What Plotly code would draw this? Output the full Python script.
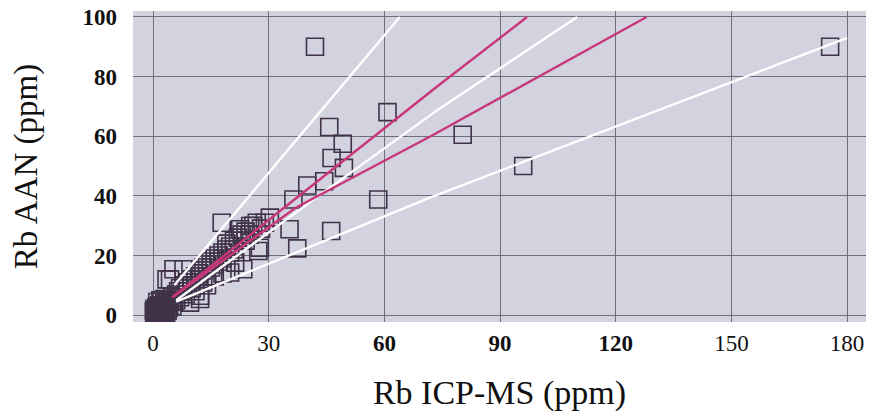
import plotly.graph_objects as go

# Scatter data: Rb by ICP-MS (x) vs Rb by AAN (y), ppm
icp_ms = [175.6, 96, 80.3, 42, 60.8, 58.4, 45.7, 49.2, 46.3, 49.5, 46.2, 37.4, 35.4, 36.4,
          40, 44.4, 30.3, 26.9, 17.8, 27.7, 22.6, 20, 12.2, 7.9, 4.4, 25.2, 27.3, 23.4,
          21.3, 12.2, 9.6, 5.3, 3.5,
          1, 1.5, 2, 2, 2.5, 3, 3, 3.5, 4, 4, 4.5, 5, 5, 5.5, 6, 6, 6.5, 7, 7, 7.5, 8,
          8.5, 9, 9, 10, 10, 11, 11, 12, 12, 13, 13, 14, 14, 15, 15, 16, 16, 17, 17, 18,
          18, 19, 19, 20, 20, 21, 21, 22, 23, 24, 24, 25, 26, 28, 29, 0.5, 0.8, 1.2, 2, 3,
          11, 14, 16, 18, 13,
          0.3, 0.6, 1.0, 1.3, 1.7, 2.2, 2.7, 3.2, 0.2, 0.9, 1.6, 2.4, 3.0, 3.8, 0.4, 1.1,
          1.9, 2.6, 3.4, 4.2, 0.7, 1.4, 2.1, 2.9]
aan = [90, 50, 60.5, 90, 68.1, 38.8, 63.1, 57.5, 52.7, 49.4, 28.2, 22.4, 28.8, 38.8,
       43.5, 44.9, 32.7, 31, 31, 22.6, 28.8, 14.3, 6.5, 15.4, 12, 29.9, 21.5, 15.4,
       17.6, 5.4, 4.2, 15.4, 12,
       1, 2, 1, 3, 2, 3, 1.5, 4, 2.5, 4, 5, 3, 6, 4.5, 7, 5, 8, 6, 9, 8, 10,
       7, 11, 9, 12, 9, 13, 10, 14, 12, 15, 16, 13, 17, 18, 16, 19, 17, 20, 18, 21,
       19, 22, 24, 23, 21, 25, 22, 26, 27, 25, 28, 27, 30, 29, 31, 0.5, 1.5, 0.6, 0.8, 0.5,
       8, 10, 13, 14, 11,
       0.3, 1.0, 0.2, 1.8, 0.9, 2.2, 1.0, 2.6, 1.4, 2.7, 3.3, 0.4, 3.9, 1.6, 2.1, 4.4,
       5.0, 3.1, 0.8, 2.8, 0.0, 0.6, 4.6, 5.4]

# Reference lines (white) and fitted lines (pink)
white_steep_x = [5.5, 64]
white_steep_y = [10, 100]
white_mid_x = [6, 44, 74, 110]
white_mid_y = [5, 41, 69, 100]
white_low_x = [6, 72, 180]
white_low_y = [4.5, 39.5, 93]
pink_up_x = [5, 33, 74, 97]
pink_up_y = [6, 35, 77, 100]
pink_low_x = [5, 37, 72, 128]
pink_low_y = [6, 36, 60, 100]

x_ticks = [0, 30, 60, 90, 120, 150, 180]
x_tick_text = ["0", "30", "<b>60</b>", "<b>90</b>", "<b>120</b>", "150", "180"]
y_ticks = [0, 20, 40, 60, 80, 100]

fig = go.Figure()
fig.add_trace(go.Scatter(
    x=icp_ms, y=aan, mode="markers",
    marker=dict(symbol="square-open", size=17, color="#403248",
                line=dict(width=1.6, color="#403248")),
    showlegend=False, hoverinfo="x+y"))

for xs, ys, col in [(white_steep_x, white_steep_y, "white"),
                    (white_mid_x, white_mid_y, "white"),
                    (white_low_x, white_low_y, "white"),
                    (pink_up_x, pink_up_y, "#c8377a"),
                    (pink_low_x, pink_low_y, "#c8377a")]:
    fig.add_trace(go.Scatter(x=xs, y=ys, mode="lines",
                             line=dict(color=col, width=2.4),
                             showlegend=False, hoverinfo="skip"))

font_family = "Liberation Serif"
fig.update_layout(
    width=869, height=412,
    margin=dict(l=133, r=3, t=11, b=88),
    paper_bgcolor="white",
    plot_bgcolor="#d3d3e0",
    font=dict(family=font_family, color="#111111"),
)
fig.update_xaxes(
    range=[-5.2, 184.9], tickvals=x_ticks, ticktext=x_tick_text,
    showgrid=True, gridcolor="#6f6f7c", gridwidth=1, zeroline=False,
    showline=False, ticks="", tickfont=dict(family=font_family, size=23),
    ticklabelstandoff=5, ticklabeloverflow="allow",
    title=dict(text="Rb ICP-MS (ppm)", font=dict(family=font_family, size=34), standoff=29),
)
fig.update_yaxes(
    range=[-2.3, 102], tickvals=y_ticks, ticktext=[str(v) for v in y_ticks],
    showgrid=True, gridcolor="#6f6f7c", gridwidth=1, zeroline=False,
    showline=False, ticks="", tickfont=dict(family=font_family, size=23, weight="bold"),
    ticklabelstandoff=15, ticklabeloverflow="allow",
    title=dict(text="Rb AAN (ppm)", font=dict(family=font_family, size=33), standoff=34),
)

fig.write_html(
    "out.html",
    config={"displayModeBar": False},
    post_script="document.body.style.margin='0';document.body.style.overflow='hidden';",
)
